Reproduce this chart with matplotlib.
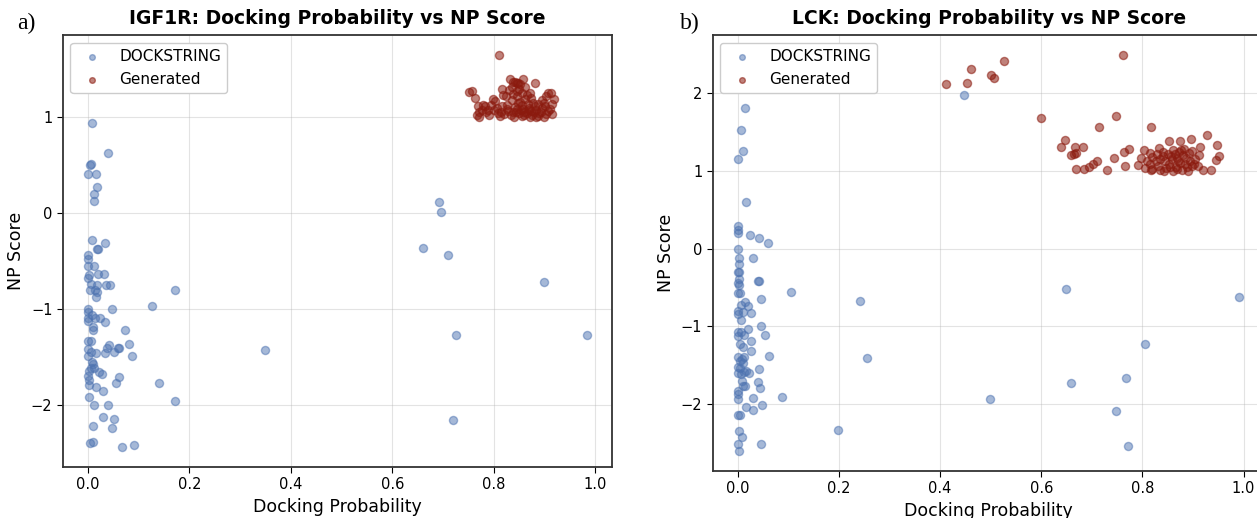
import matplotlib
matplotlib.use("Agg")
import matplotlib.pyplot as plt

# ---------------- IGF1R data ----------------
igf_dock_x = [0.008, 0.039, 0.004, 0.007, 0.0, 0.017, 0.018, 0.013, 0.013,
              0.692, 0.695, 0.660, 0.710, 0.898, 0.726, 0.984, 0.720, 0.350,
              0.171, 0.126, 0.074, 0.081, 0.088, 0.060, 0.062, 0.052, 0.061, 0.055,
              0.140, 0.171, 0.051, 0.047, 0.029, 0.039, 0.012, 0.011, 0.067, 0.091,
              0.005, 0.011,
              0.008, 0.034, 0.018, 0.020, 0.001, 0.001, 0.001, 0.013, 0.020, 0.032,
              0.003, 0.001, 0.006, 0.019, 0.036, 0.043, 0.004, 0.014, 0.019, 0.016,
              0.047, 0.001, 0.001, 0.008, 0.0, 0.001, 0.014, 0.024, 0.034, 0.011,
              0.010, 0.001, 0.007, 0.0, 0.007, 0.016, 0.034, 0.041, 0.038, 0.0,
              0.008, 0.011, 0.007, 0.003, 0.013, 0.023, 0.027, 0.0, 0.002, 0.002,
              0.017, 0.029, 0.003]
igf_dock_y = [0.943, 0.628, 0.500, 0.510, 0.413, 0.413, 0.274, 0.205, 0.128,
              0.121, 0.014, -0.361, -0.440, -0.718, -1.273, -1.273, -2.157, -1.422,
              -0.798, -0.964, -1.214, -1.360, -1.488, -1.410, -1.400, -1.450, -1.703, -1.769,
              -1.766, -1.960, -2.147, -2.240, -2.120, -2.000, -1.994, -2.223, -2.438, -2.418,
              -2.393, -2.386,
              -0.274, -0.312, -0.368, -0.368, -0.437, -0.479, -0.555, -0.548, -0.631, -0.631,
              -0.645, -0.673, -0.742, -0.753, -0.749, -0.749, -0.805, -0.805, -0.819, -0.874,
              -0.999, -1.002, -1.034, -1.060, -1.093, -1.120, -1.093, -1.093, -1.138, -1.183,
              -1.214, -1.332, -1.332, -1.419, -1.446, -1.460, -1.460, -1.377, -1.400, -1.488,
              -1.550, -1.575, -1.610, -1.640, -1.610, -1.650, -1.672, -1.696, -1.738, -1.793,
              -1.807, -1.849, -1.911]

igf_gen_x = [0.810, 0.831, 0.858, 0.838, 0.845, 0.848, 0.852, 0.881, 0.842,
             0.817, 0.872, 0.751, 0.758, 0.763, 0.819, 0.824, 0.906, 0.912, 0.903,
             0.798, 0.803, 0.779, 0.768, 0.789, 0.770, 0.770, 0.809, 0.817, 0.828,
             0.839, 0.848, 0.853, 0.860, 0.867, 0.874, 0.883, 0.888, 0.895, 0.898,
             0.914, 0.914,
             0.800, 0.826, 0.835, 0.845, 0.850, 0.855, 0.862, 0.869, 0.877, 0.884,
             0.890, 0.894, 0.900, 0.907, 0.843, 0.833, 0.856, 0.865, 0.876, 0.887,
             0.841, 0.851, 0.858, 0.865, 0.874, 0.820, 0.812, 0.790, 0.785, 0.776,
             0.795, 0.830, 0.838, 0.846, 0.862, 0.835, 0.826, 0.849, 0.870, 0.881,
             0.893, 0.903, 0.910, 0.918, 0.855, 0.845, 0.838, 0.872, 0.860, 0.879,
             0.899, 0.766, 0.782, 0.806, 0.814]
igf_gen_y = [1.651, 1.398, 1.401, 1.365, 1.360, 1.362, 1.350, 1.356, 1.370,
             1.294, 1.252, 1.262, 1.270, 1.204, 1.235, 1.218, 1.252, 1.252, 1.218,
             1.190, 1.165, 1.130, 1.120, 1.079, 1.051, 0.999, 1.044, 1.120, 1.061,
             1.002, 1.148, 1.079, 1.027, 1.134, 1.061, 1.002, 1.141, 1.096, 1.002,
             1.141, 1.037,
             1.080, 1.130, 1.180, 1.220, 1.300, 1.250, 1.190, 1.100, 1.150, 1.080,
             1.040, 1.180, 1.120, 1.070, 1.050, 1.020, 1.010, 1.040, 1.020, 1.010,
             1.110, 1.160, 1.090, 1.230, 1.200, 1.030, 1.010, 1.020, 1.050, 1.080,
             1.130, 1.280, 1.240, 1.270, 1.320, 1.320, 1.090, 1.040, 1.080, 1.120,
             1.060, 1.030, 1.090, 1.190, 1.130, 1.090, 1.060, 1.000, 1.060, 1.050,
             1.150, 1.020, 1.120, 1.100, 1.060]

# ---------------- LCK data ----------------
lck_dock_x = [0.448, 0.015, 0.007, 0.010, 0.001, 0.017, 0.0, 0.0, 0.0,
              0.024, 0.041, 0.060, 0.001, 0.031, 0.003, 0.003, 0.0, 0.002,
              0.003, 0.039, 0.041, 0.0, 0.003, 0.001, 0.005, 0.106, 0.046,
              0.241, 0.649, 0.992, 0.014, 0.020, 0.006, 0.001, 0.010, 0.026,
              0.001, 0.007, 0.046, 0.021, 0.001, 0.006, 0.001, 0.012, 0.053,
              0.026, 0.005, 0.010, 0.026, 0.061, 0.255,
              0.001, 0.004, 0.008, 0.012, 0.010, 0.0, 0.005, 0.001, 0.006,
              0.012, 0.022, 0.017, 0.041, 0.039, 0.043, 0.008, 0.010, 0.015,
              0.001, 0.0, 0.0, 0.031, 0.088, 0.048, 0.031, 0.016, 0.001, 0.005,
              0.003, 0.009, 0.001, 0.003, 0.046, 0.199, 0.498, 0.806, 0.658,
              0.767, 0.747, 0.772]
lck_dock_y = [1.970, 1.803, 1.521, 1.256, 1.154, 0.594, 0.291, 0.239, 0.205,
              0.179, 0.137, 0.073, 0.0, -0.124, -0.124, -0.200, -0.299, -0.299,
              -0.393, -0.415, -0.415, -0.444, -0.466, -0.573, -0.573, -0.564, -0.654,
              -0.671, -0.521, -0.628, -0.692, -0.739, -0.731, -0.799, -0.821, -0.829,
              -0.842, -0.919, -0.996, -1.038, -1.077, -1.077, -1.120, -1.107, -1.107,
              -1.184, -1.226, -1.260, -1.316, -1.376, -1.402,
              -1.400, -1.440, -1.420, -1.400, -1.470, -1.520, -1.540, -1.600, -1.610,
              -1.590, -1.600, -1.580, -1.547, -1.718, -1.790, -1.700, -1.770, -1.770,
              -1.830, -1.870, -1.940, -1.919, -1.910, -2.017, -2.080, -2.040, -2.137, -2.137,
              -2.342, -2.419, -2.517, -2.603, -2.513, -2.333, -1.940, -1.222, -1.722,
              -1.667, -2.085, -2.534]

lck_gen_x = [0.761, 0.527, 0.462, 0.500, 0.507, 0.453, 0.411, 0.600, 0.748, 0.714,
             0.817, 0.647, 0.639, 0.667, 0.683, 0.658, 0.664, 0.669, 0.711, 0.702,
             0.695, 0.668, 0.684, 0.731, 0.744, 0.763, 0.773, 0.766, 0.792, 0.803,
             0.797, 0.852, 0.874, 0.896, 0.928, 0.948, 0.914, 0.951, 0.946, 0.936,
             0.920,
             0.833, 0.816, 0.861, 0.882, 0.892, 0.912, 0.868, 0.840, 0.826, 0.875,
             0.902, 0.806, 0.820, 0.834, 0.855, 0.879, 0.899, 0.810, 0.845, 0.820,
             0.828, 0.850, 0.858, 0.865, 0.872, 0.886, 0.895, 0.905, 0.910, 0.888,
             0.866, 0.846, 0.830, 0.815, 0.840, 0.870, 0.880, 0.853, 0.860, 0.890,
             0.835, 0.898, 0.876, 0.818, 0.843, 0.869, 0.885, 0.857]
lck_gen_y = [2.487, 2.406, 2.308, 2.231, 2.197, 2.124, 2.115, 1.684, 1.705, 1.560,
             1.560, 1.393, 1.299, 1.299, 1.308, 1.197, 1.218, 1.231, 1.124, 1.081,
             1.047, 1.026, 1.026, 1.013, 1.167, 1.239, 1.278, 1.064, 1.068, 1.265,
             1.167, 1.380, 1.380, 1.410, 1.457, 1.325, 1.299, 1.188, 1.137, 1.013,
             1.004,
             1.295, 1.230, 1.265, 1.274, 1.230, 1.197, 1.167, 1.188, 1.120, 1.100,
             1.080, 1.040, 1.020, 1.010, 1.050, 1.010, 1.060, 1.120, 1.120, 1.180,
             1.220, 1.220, 1.150, 1.210, 1.240, 1.160, 1.130, 1.150, 1.060, 1.050,
             1.050, 1.030, 1.060, 1.080, 1.240, 1.120, 1.200, 1.080, 1.000, 1.000,
             1.150, 1.250, 1.270, 1.010, 1.000, 1.020, 1.090, 1.190]

titles = ["IGF1R: Docking Probability vs NP Score", "LCK: Docking Probability vs NP Score"]
panel_labels = ["a)", "b)"]
xticks = [0.0, 0.2, 0.4, 0.6, 0.8, 1.0]
igf_yticks = [-2, -1, 0, 1]
lck_yticks = [-2, -1, 0, 1, 2]

BLUE = "#4C72B0"
RED = "#8B1A0E"

fig = plt.figure(figsize=(12.57, 5.18), dpi=100)
ax1 = fig.add_axes([0.050, 0.099, 0.437, 0.833])
ax2 = fig.add_axes([0.567, 0.091, 0.439, 0.841])

panels = [
    (ax1, igf_dock_x, igf_dock_y, igf_gen_x, igf_gen_y, igf_yticks),
    (ax2, lck_dock_x, lck_dock_y, lck_gen_x, lck_gen_y, lck_yticks),
]
for i, (ax, dx, dy, gx, gy, yt) in enumerate(panels):
    ax.scatter(dx, dy, s=34, color=BLUE, alpha=0.5, label="DOCKSTRING", zorder=3)
    ax.scatter(gx, gy, s=34, color=RED, alpha=0.55, label="Generated", zorder=3)
    ax.set_xticks(xticks)
    ax.set_yticks(yt)
    ax.grid(True, color="#b0b0b0", alpha=0.35, linewidth=0.8)
    ax.set_axisbelow(True)
    ax.set_title(titles[i], fontsize=13.5, fontweight="bold", pad=8)
    ax.set_xlabel("Docking Probability", fontsize=12.5)
    ax.set_ylabel("NP Score", fontsize=12.5)
    ax.tick_params(labelsize=10.5, length=4)
    for sp in ax.spines.values():
        sp.set_color("#333333")
        sp.set_linewidth(1.3)
    ax.legend(loc="upper left", fontsize=11, framealpha=1, edgecolor="#cccccc",
              markerscale=0.7)

fig.text(0.014, 0.955, panel_labels[0], fontsize=17, family="Liberation Serif", va="center")
fig.text(0.541, 0.955, panel_labels[1], fontsize=17, family="Liberation Serif", va="center")

fig.savefig("out.png", dpi=100)
